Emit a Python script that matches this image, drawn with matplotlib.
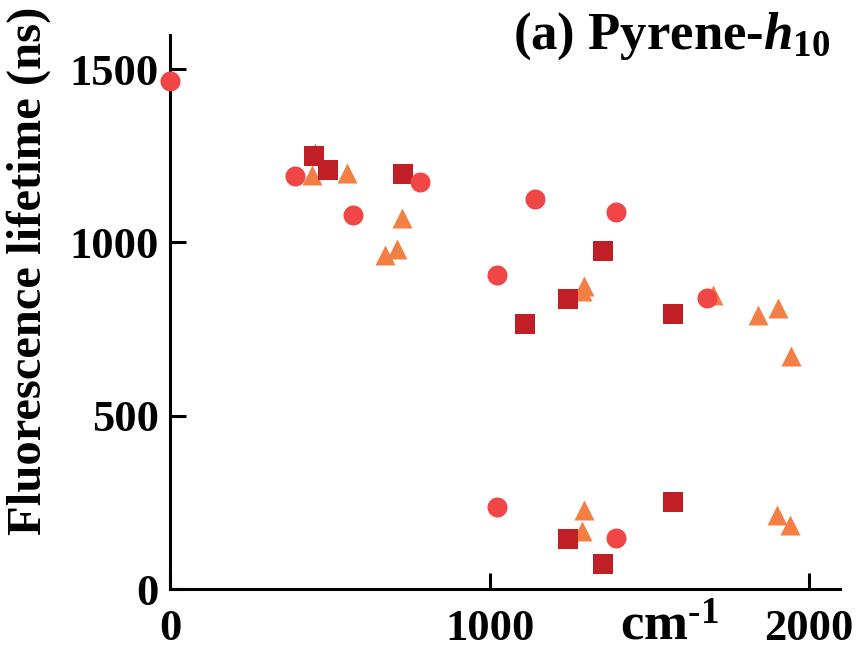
import matplotlib
matplotlib.use("Agg")
import matplotlib.pyplot as plt

plt.rcParams['font.family'] = 'Liberation Serif'
plt.rcParams['font.weight'] = 'bold'
plt.rcParams['mathtext.fontset'] = 'custom'
plt.rcParams['mathtext.rm'] = 'Liberation Serif:bold'
plt.rcParams['mathtext.it'] = 'Liberation Serif:bold:italic'
plt.rcParams['mathtext.bf'] = 'Liberation Serif:bold'

# circles
circ_x = [0, 391, 571, 782, 1022, 1143, 1397, 1681, 1022, 1397]
circ_y = [1465, 1192, 1079, 1173, 905, 1124, 1088, 839, 237, 147]

# squares
sq_x = [449, 493, 730, 1356, 1246, 1110, 1574, 1246, 1356, 1574]
sq_y = [1249, 1210, 1197, 974, 837, 764, 794, 146, 74, 250]

# triangles
tri_x = [452, 443, 553, 726, 673, 711, 1297, 1289, 1700, 1840, 1902, 1942,
         1297, 1289, 1899, 1941]
tri_y = [1258, 1195, 1199, 1072, 965, 981, 874, 860, 848, 790, 811, 672,
         228, 168, 213, 185]

fig = plt.figure(figsize=(8.59, 6.51), dpi=100)
ax = fig.add_axes([0.198, 0.095, 0.78, 0.851])

ms = 14.4
ax.scatter(tri_x, tri_y, marker='^', s=ms**2, color='#F47F45', linewidths=0, clip_on=False, zorder=3)
ax.scatter(sq_x, sq_y, marker='s', s=ms**2, color='#C01F25', linewidths=0, clip_on=False, zorder=4)
ax.scatter(circ_x, circ_y, marker='o', s=ms**2, color='#F04646', linewidths=0, clip_on=False, zorder=5)

ax.set_xlim(0, 2097)
ax.set_ylim(0, 1598)
ax.set_xticks([0, 1000, 2000])
ax.set_yticks([0, 500, 1000, 1500])

for s in ['top', 'right']:
    ax.spines[s].set_visible(False)
for s in ['left', 'bottom']:
    ax.spines[s].set_linewidth(2.2)

ax.tick_params(direction='in', length=11.5, width=2.2, labelsize=32)
ax.tick_params(axis='x', pad=14)
ax.tick_params(axis='y', pad=8)

ax.set_xlabel(r'cm$^{\text{-1}}$', fontsize=38, fontweight='bold')
ax.xaxis.set_label_coords(0.745, -0.025)
ax.set_ylabel('Fluorescence lifetime (ns)', fontsize=35, fontweight='bold')
ax.yaxis.set_label_coords(-0.178, 0.574)

fig.text(0.966, 0.925, r'(a) Pyrene-$\mathit{h}_{10}$', fontsize=38, fontweight='bold',
         ha='right', va='baseline')

fig.savefig('out.png', dpi=100)
